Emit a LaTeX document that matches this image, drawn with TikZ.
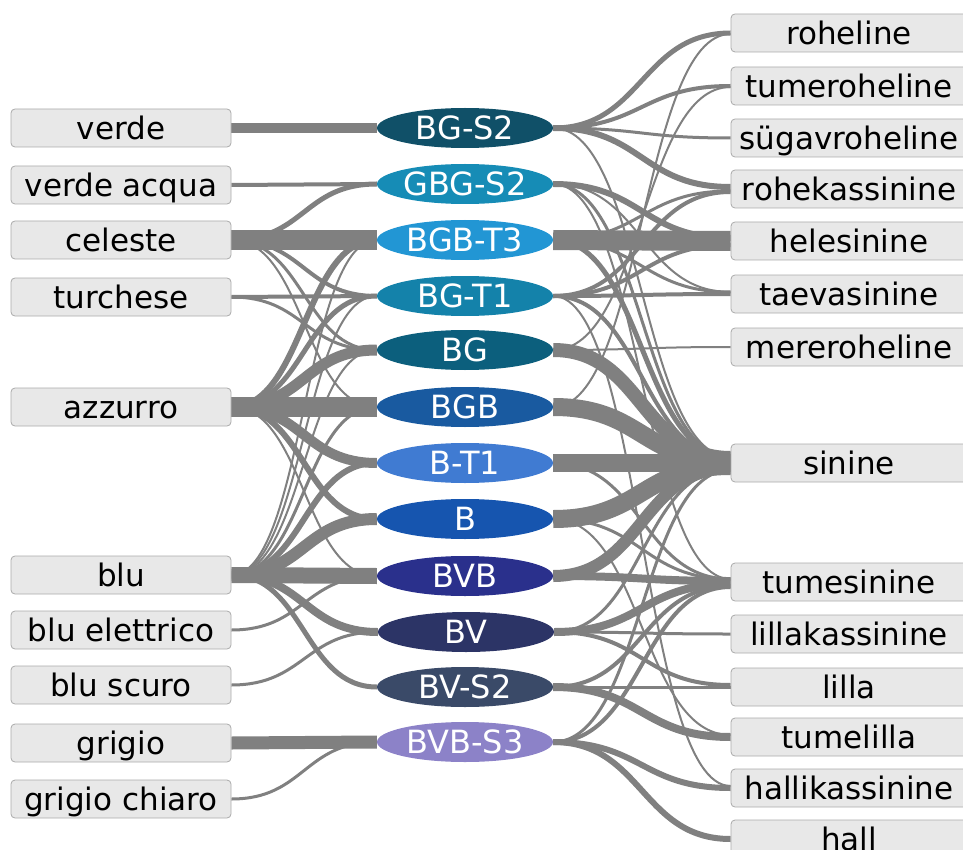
\documentclass[tikz,border=0pt]{standalone}
\usepackage{fontspec}
\setmainfont{DejaVu Sans}
\usetikzlibrary{shapes.geometric}
\pgfdeclarelayer{bg}
\pgfsetlayers{bg,main}
\definecolor{edgegray}{RGB}{128,128,128}
\definecolor{boxfill}{RGB}{232,232,232}
\definecolor{boxline}{RGB}{170,170,170}
\definecolor{cA}{RGB}{16,80,104}
\definecolor{cB}{RGB}{22,140,182}
\definecolor{cC}{RGB}{34,150,212}
\definecolor{cD}{RGB}{20,130,170}
\definecolor{cE}{RGB}{12,95,125}
\definecolor{cF}{RGB}{25,90,160}
\definecolor{cG}{RGB}{64,123,210}
\definecolor{cH}{RGB}{22,85,175}
\definecolor{cI}{RGB}{42,48,140}
\definecolor{cJ}{RGB}{44,52,102}
\definecolor{cK}{RGB}{58,74,104}
\definecolor{cL}{RGB}{140,130,200}
\begin{document}
\begin{tikzpicture}[x=1pt,y=-1pt,
  lbox/.style={draw=boxline, fill=boxfill, rounded corners=4pt, line width=0.8pt,
    minimum width=220pt, minimum height=38pt, inner sep=0pt,
    text height=23.5pt, text depth=0pt, font=\fontsize{31}{31}\selectfont},
  rbox/.style={lbox, minimum width=236pt},
  oval/.style={ellipse, minimum width=176pt, minimum height=40pt, inner sep=0pt,
    text=white, text height=23.3pt, text depth=0pt, font=\fontsize{32}{32}\selectfont},
  flow/.style={draw=edgegray, line cap=butt},
]
\useasboundingbox (0,0) rectangle (963,850);
% left boxes
\node[lbox] (l1) at (121,128) {verde};
\node[lbox] (l2) at (121,185) {verde acqua};
\node[lbox] (l3) at (121,240) {celeste};
\node[lbox] (l4) at (121,297) {turchese};
\node[lbox] (l5) at (121,407) {azzurro};
\node[lbox] (l6) at (121,575) {blu};
\node[lbox] (l7) at (121,630) {blu elettrico};
\node[lbox] (l8) at (121,685) {blu scuro};
\node[lbox] (l9) at (121,743) {grigio};
\node[lbox] (l10) at (121,799) {grigio chiaro};
% ellipses
\node[oval, fill=cA] (e1) at (465,128) {BG-S2};
\node[oval, fill=cB] (e2) at (465,184) {GBG-S2};
\node[oval, fill=cC] (e3) at (465,240) {BGB-T3};
\node[oval, fill=cD] (e4) at (465,296) {BG-T1};
\node[oval, fill=cE] (e5) at (465,350) {BG};
\node[oval, fill=cF] (e6) at (465,407) {BGB};
\node[oval, fill=cG] (e7) at (465,463) {B-T1};
\node[oval, fill=cH] (e8) at (465,519) {B};
\node[oval, fill=cI] (e9) at (465,576) {BVB};
\node[oval, fill=cJ] (e10) at (466,632) {BV};
\node[oval, fill=cK] (e11) at (465,687) {BV-S2};
\node[oval, fill=cL] (e12) at (465,742) {BVB-S3};
% right boxes
\node[rbox] (r1) at (849,33) {roheline};
\node[rbox] (r2) at (849,86) {tumeroheline};
\node[rbox] (r3) at (849,138) {sügavroheline};
\node[rbox] (r4) at (849,189) {rohekassinine};
\node[rbox] (r5) at (849,241) {helesinine};
\node[rbox] (r6) at (849,294) {taevasinine};
\node[rbox] (r7) at (849,347) {mereroheline};
\node[rbox] (r8) at (849,463) {sinine};
\node[rbox] (r9) at (849,582) {tumesinine};
\node[rbox] (r10) at (849,634) {lillakassinine};
\node[rbox] (r11) at (849,687) {lilla};
\node[rbox] (r12) at (849,737) {tumelilla};
\node[rbox] (r13) at (849,788) {hallikassinine};
\node[rbox] (r14) at (849,839) {hall};
\begin{pgfonlayer}{bg}
\foreach \a/\b/\w in {l1/e1/10pt, l2/e2/4pt, l3/e3/20pt, l3/e2/5pt, l3/e4/4pt,
  l3/e5/3pt, l3/e6/2pt, l4/e4/4pt, l4/e5/3pt,
  l5/e6/20pt, l5/e5/11pt, l5/e4/5pt, l5/e3/6pt, l5/e7/10pt,
  l5/e8/6pt, l5/e9/2pt,
  l6/e9/16pt, l6/e8/12pt, l6/e7/6pt, l6/e6/3pt, l6/e5/2pt, l6/e4/2pt, l6/e3/2pt,
  l6/e10/8pt, l6/e11/5pt, l7/e9/3pt, l8/e10/3pt, l9/e12/13pt, l10/e12/3pt}
  \draw[flow, line width=\w] (\a.east) .. controls +(73,0) and +(-73,0) .. (\b.west);
\foreach \a/\b/\w/\s in {e1/r1/5pt/0pt, e1/r2/4pt/0pt, e1/r3/3pt/0pt, e1/r4/6pt/2pt, e1/r8/2pt/6pt,
  e2/r5/6pt/3pt, e2/r8/3pt/6pt, e2/r6/2pt/2pt, e2/r9/2pt/3pt,
  e3/r5/20pt/0pt, e3/r8/5pt/6pt, e3/r6/3pt/2pt, e3/r4/3pt/-2pt,
  e4/r5/4pt/-4pt, e4/r4/4pt/-3pt, e4/r6/4pt/0pt, e4/r8/4pt/5pt, e4/r13/2pt/2pt,
  e5/r8/14pt/5pt, e5/r7/2pt/0pt, e5/r2/2pt/-1pt, e6/r8/18pt/2pt, e6/r1/2pt/-1pt,
  e7/r8/18pt/0pt, e7/r9/3pt/3pt, e8/r8/18pt/-3pt, e8/r9/3pt/3pt, e8/r12/2pt/2pt,
  e9/r8/12pt/-5pt, e9/r9/8pt/1pt, e10/r9/8pt/-2pt, e10/r10/3pt/0pt, e10/r11/4pt/2pt, e10/r8/3pt/-6pt,
  e11/r11/3pt/0pt, e11/r12/8pt/0pt, e11/r9/4pt/-4pt,
  e12/r13/6pt/0pt, e12/r14/6pt/0pt, e12/r9/4pt/-5pt, e12/r8/3pt/-7pt}
  \draw[flow, line width=\w] (\a.east) .. controls +(89,0) and +(-89,0) .. ([yshift=\s]\b.west);
\end{pgfonlayer}
\end{tikzpicture}
\end{document}
